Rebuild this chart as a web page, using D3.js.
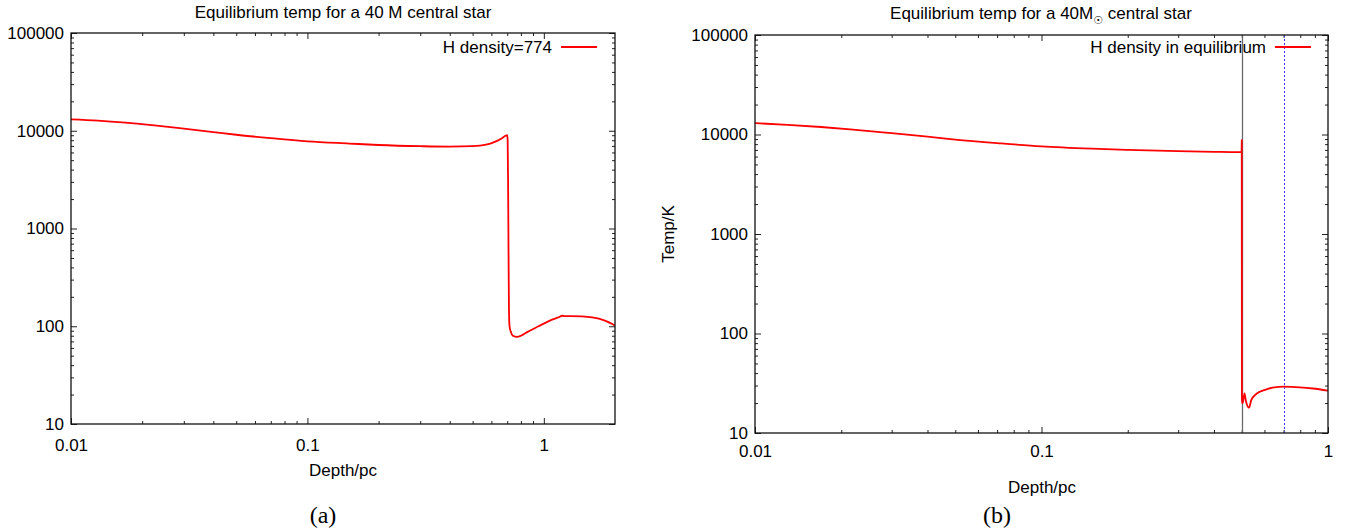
<!DOCTYPE html>
<html>
<head>
<meta charset="utf-8">
<script src="https://cdn.jsdelivr.net/npm/d3@7"></script>
<style>
  html, body { margin: 0; padding: 0; background: #fff; }
  svg { display: block; }
  text { font-family: "Liberation Sans", Arial, Helvetica, sans-serif; fill: #000; }
</style>
</head>
<body>
<svg id="chart" width="1349" height="531"></svg>
<script>
// ---------- data ----------
const leftDepth = [0.01, 0.013, 0.017, 0.022, 0.03, 0.04, 0.05, 0.07, 0.1, 0.15, 0.2, 0.3, 0.4, 0.5, 0.57, 0.62, 0.66, 0.69, 0.7, 0.703, 0.706, 0.709, 0.712, 0.716, 0.725, 0.74, 0.77, 0.8, 0.85, 0.95, 1.05, 1.15, 1.2, 1.22, 1.3, 1.45, 1.6, 1.8, 2.0];
const leftTemp  = [13100, 12700, 12100, 11400, 10500, 9700, 9100, 8400, 7800, 7400, 7150, 6950, 6880, 6950, 7200, 7700, 8300, 8900, 9000, 8000, 3000, 600, 150, 100, 88, 80, 78, 80, 87, 100, 113, 123, 128, 127, 127, 126, 123, 115, 102];

const rightDepth = [0.01, 0.013, 0.017, 0.022, 0.03, 0.04, 0.05, 0.07, 0.1, 0.15, 0.2, 0.3, 0.4, 0.49, 0.4995, 0.5, 0.5003, 0.5006, 0.502, 0.504, 0.511, 0.517, 0.53, 0.54, 0.556, 0.578, 0.611, 0.65, 0.7, 0.796, 0.886, 1.0];
const rightTemp  = [13000, 12500, 11900, 11200, 10300, 9500, 8900, 8200, 7600, 7200, 7000, 6800, 6700, 6650, 6650, 8800, 300, 22, 20, 20, 25, 21, 18, 21.5, 24, 26, 27.5, 28.8, 29.2, 28.8, 28, 26.6];

const xTickValues = [0.01, 0.1, 1];
const xTickLabels = ["0.01", "0.1", "1"];
const yTickValues = [10, 100, 1000, 10000, 100000];
const yTickLabels = ["10", "100", "1000", "10000", "100000"];

const markerLines = [0.5, 0.7];   // solid gray, dotted blue (panel b)

const leftTitle = "Equilibrium temp for a 40 M central star";
const rightTitlePre = "Equilibrium temp for a 40M";
const rightTitleSub = "\u2609";
const rightTitlePost = " central star";
const leftLegend = "H density=774";
const rightLegend = "H density in equilibrium";
const xLabel = "Depth/pc";
const yLabel = "Temp/K";
const captions = ["(a)", "(b)"];

// ---------- drawing ----------
const svg = d3.select("#chart");
const FS = "17px";

function minorTicks(lo, hi) {
  const out = [];
  for (let e = Math.floor(Math.log10(lo)); e <= Math.ceil(Math.log10(hi)); e++) {
    for (let m = 2; m <= 9; m++) {
      const v = m * Math.pow(10, e);
      if (v > lo * 1.0001 && v < hi * 0.9999) out.push(v);
    }
  }
  return out;
}

function panel(cfg) {
  const g = svg.append("g");
  const x = d3.scaleLog().domain(cfg.xDomain).range([cfg.x0, cfg.x1]);
  const y = d3.scaleLog().domain([10, 100000]).range([cfg.y1, cfg.y0]);

  const clipId = "clip" + cfg.id;
  svg.append("clipPath").attr("id", clipId)
    .append("rect").attr("x", cfg.x0).attr("y", cfg.y0)
    .attr("width", cfg.x1 - cfg.x0).attr("height", cfg.y1 - cfg.y0);

  const majX = xTickValues.filter(v => v >= cfg.xDomain[0] && v <= cfg.xDomain[1]);
  const minX = minorTicks(cfg.xDomain[0], cfg.xDomain[1]);
  const minY = minorTicks(10, 100000);

  function ax(gen, scale, vals, size, pos, labels) {
    const a = gen(scale).tickValues(vals).tickSize(size).tickSizeOuter(0);
    if (labels) a.tickFormat((d) => labels[d]); else a.tickFormat("");
    const sel = g.append("g").attr("transform", pos).call(a);
    sel.select(".domain").remove();
    sel.selectAll(".tick line").attr("stroke", "#222").attr("stroke-width", 1);
    sel.selectAll("text").style("font-size", FS)
      .style("font-family", '"Liberation Sans", Arial, sans-serif');
    return sel;
  }
  const xLab = {}; xTickValues.forEach((v, i) => xLab[v] = xTickLabels[i]);
  const yLab = {}; yTickValues.forEach((v, i) => yLab[v] = yTickLabels[i]);

  const bx = ax(d3.axisBottom, x, majX, -6, `translate(0,${cfg.y1})`, xLab);
  bx.selectAll("text").attr("y", cfg.xLabOff).attr("dy", "0.35em");
  ax(d3.axisBottom, x, minX, -3, `translate(0,${cfg.y1})`, null);
  ax(d3.axisTop, x, majX, -6, `translate(0,${cfg.y0})`, null);
  ax(d3.axisTop, x, minX, -3, `translate(0,${cfg.y0})`, null);
  const ly = ax(d3.axisLeft, y, yTickValues, -6, `translate(${cfg.x0},0)`, yLab);
  ly.selectAll("text").attr("x", -7);
  ax(d3.axisLeft, y, minY, -3, `translate(${cfg.x0},0)`, null);
  ax(d3.axisRight, y, yTickValues, -6, `translate(${cfg.x1},0)`, null);
  ax(d3.axisRight, y, minY, -3, `translate(${cfg.x1},0)`, null);

  if (cfg.markers) {
    const m0 = Math.round(x(markerLines[0])) + 0.5;
    const m1 = Math.round(x(markerLines[1])) + 0.5;
    g.append("line").attr("x1", m0).attr("x2", m0)
      .attr("y1", cfg.y0).attr("y2", cfg.y1).attr("stroke", "#6a6a6a").attr("stroke-width", 1.3);
    g.append("line").attr("x1", m1).attr("x2", m1)
      .attr("y1", cfg.y0).attr("y2", cfg.y1).attr("stroke", "#3a3aff").attr("stroke-width", 1)
      .attr("stroke-dasharray", "2,2");
  }

  const pts = cfg.xs.map((d, i) => [d, cfg.ys[i]]);
  const line = d3.line().x(d => x(d[0])).y(d => y(d[1])).curve(d3.curveMonotoneX);
  g.append("path").attr("d", line(pts)).attr("fill", "none")
    .attr("stroke", "#ff0000").attr("stroke-width", 1.8)
    .attr("stroke-linejoin", "round").attr("clip-path", `url(#${clipId})`);

  g.append("rect").attr("x", cfg.x0).attr("y", cfg.y0)
    .attr("width", cfg.x1 - cfg.x0).attr("height", cfg.y1 - cfg.y0)
    .attr("fill", "none").attr("stroke", "#111").attr("stroke-width", 1.3);

  g.append("text").attr("x", cfg.legX).attr("y", cfg.legY).attr("dy", "0.35em")
    .attr("text-anchor", "end").style("font-size", FS).text(cfg.legend);
  g.append("line").attr("x1", cfg.legX + 9).attr("x2", cfg.legX + 45)
    .attr("y1", cfg.legY).attr("y2", cfg.legY)
    .attr("stroke", "#ff0000").attr("stroke-width", 1.8);

  g.append("text").attr("x", cfg.xLabX).attr("y", cfg.xLabY).attr("dy", "0.35em")
    .attr("text-anchor", "middle").style("font-size", FS).text(xLabel);

  g.append("text").attr("x", cfg.capX).attr("y", 515).attr("dy", "0.35em")
    .attr("text-anchor", "middle")
    .style("font-family", '"Liberation Serif", "DejaVu Serif", serif')
    .style("font-size", "24px").text(cfg.caption);
  return g;
}

panel({
  id: "a", x0: 71, x1: 615, y0: 33, y1: 424, xDomain: [0.01, 2],
  xs: leftDepth, ys: leftTemp, xLabOff: 21,
  legend: leftLegend, legX: 552, legY: 47,
  xLabX: 343, xLabY: 470, capX: 323, caption: captions[0], markers: false
});
panel({
  id: "b", x0: 755, x1: 1328, y0: 35, y1: 433, xDomain: [0.01, 1],
  xs: rightDepth, ys: rightTemp, xLabOff: 18,
  legend: rightLegend, legX: 1266, legY: 47,
  xLabX: 1042, xLabY: 487, capX: 997, caption: captions[1], markers: true
});

svg.append("text").attr("x", 343).attr("y", 12).attr("dy", "0.35em")
  .attr("text-anchor", "middle").style("font-size", FS).text(leftTitle);
const rt = svg.append("text").attr("x", 1041).attr("y", 13).attr("dy", "0.35em")
  .attr("text-anchor", "middle").style("font-size", FS);
rt.append("tspan").text(rightTitlePre);
rt.append("tspan").attr("dy", 5).style("font-size", "11px")
  .style("font-family", '"DejaVu Sans", sans-serif').text(rightTitleSub);
rt.append("tspan").attr("dy", -5).text(rightTitlePost);

svg.append("text").attr("transform", "translate(668,234) rotate(-90)")
  .attr("dy", "0.35em").attr("text-anchor", "middle")
  .style("font-size", FS).text(yLabel);
</script>
</body>
</html>
